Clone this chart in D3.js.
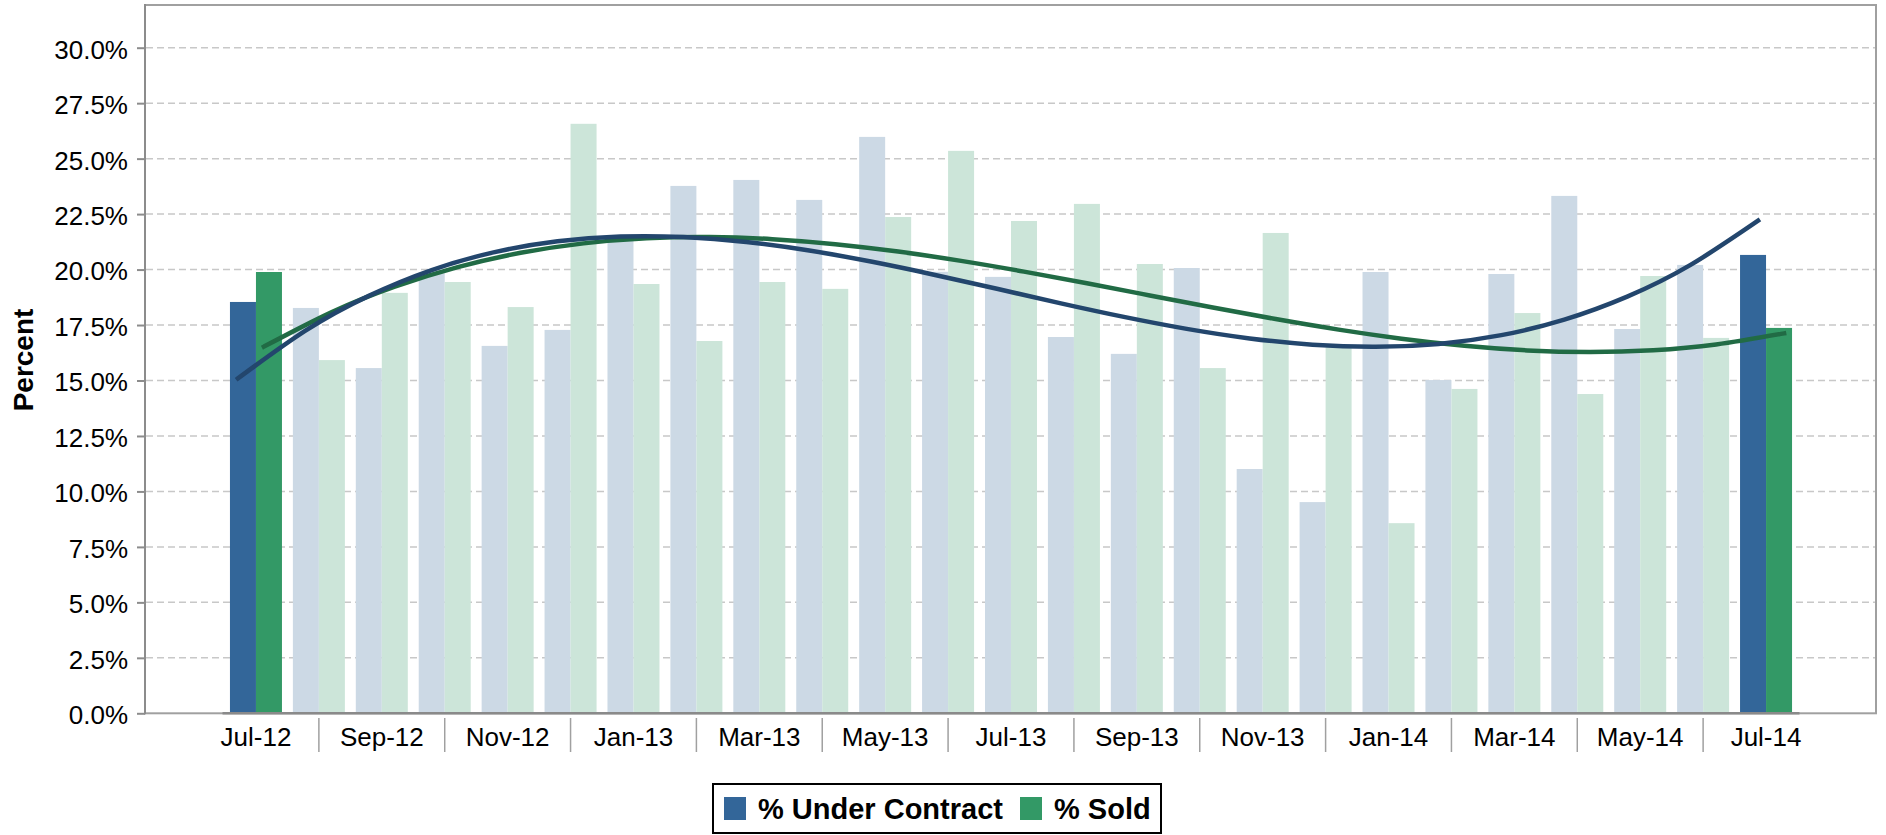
<!DOCTYPE html>
<html>
<head>
<meta charset="utf-8">
<script src="https://cdn.jsdelivr.net/npm/d3@7"></script>
<style>
  body { margin: 0; background: #fff; }
  text { font-family: "Liberation Sans", Arial, sans-serif; fill: #000; }
</style>
</head>
<body>
<svg width="1886" height="835"></svg>
<script>
// months on the category axis, Jul-12 .. Jul-14
var months = ["Jul-12","Aug-12","Sep-12","Oct-12","Nov-12","Dec-12","Jan-13","Feb-13","Mar-13","Apr-13",
              "May-13","Jun-13","Jul-13","Aug-13","Sep-13","Oct-13","Nov-13","Dec-13","Jan-14","Feb-14",
              "Mar-14","Apr-14","May-14","Jun-14","Jul-14"];

// values (percent)
var underContract = [18.54, 18.27, 15.56, 19.83, 16.56, 17.28, 21.3, 23.77, 24.04, 23.14,
                     25.98, 19.9, 19.67, 16.96, 16.2, 20.07, 11.01, 9.52, 19.89, 15.02,
                     19.8, 23.32, 17.32, 20.21, 20.66];
var sold = [19.89, 15.92, 18.95, 19.44, 18.31, 26.57, 19.35, 16.78, 19.44, 19.13,
            22.37, 25.35, 22.19, 22.96, 20.25, 15.56, 21.65, 16.5, 8.57, 14.62,
            18.04, 14.39, 19.71, 16.92, 17.37];

var yTicks = [0, 2.5, 5, 7.5, 10, 12.5, 15, 17.5, 20, 22.5, 25, 27.5, 30];
var seriesNames = ["% Under Contract", "% Sold"];

var series = [
  {key: "uc", name: seriesNames[0], values: underContract, full: "#336699", light: "#ccd9e5", trend: "#23466d"},
  {key: "sold", name: seriesNames[1], values: sold, full: "#339966", light: "#cce5d9", trend: "#216b45"}
];

// plot box (note: "top" is taken by window.top, so use plotTop)
var svg = d3.select("svg"),
    plotLeft = 145, plotRight = 1876, plotTop = 5, plotBottom = 713.3;

var x = d3.scaleBand().domain(months).range([224.5, 1797.5]).paddingInner(0.1735).paddingOuter(0.08675),
    x1 = d3.scaleBand().domain(series.map(function(s) { return s.key; })).range([0, x.bandwidth()]),
    y = d3.scaleLinear().domain([0, 30]).range([plotBottom, 47.7]);

// plot frame
svg.append("rect")
    .attr("x", plotLeft).attr("y", plotTop)
    .attr("width", plotRight - plotLeft).attr("height", plotBottom - plotTop)
    .attr("fill", "none").attr("stroke", "#a0a0a0").attr("stroke-width", 2);

// dashed gridlines
svg.append("g")
    .selectAll("line")
    .data(yTicks.slice(1))
    .enter().append("line")
    .attr("x1", plotLeft + 1).attr("x2", plotRight - 1)
    .attr("y1", function(d) { return y(d); })
    .attr("y2", function(d) { return y(d); })
    .attr("stroke", "#c8c8c8").attr("stroke-width", 1.5)
    .attr("stroke-dasharray", "7,4");

// y axis
var yAxis = svg.append("g")
    .attr("transform", "translate(" + plotLeft + ",0)")
    .call(d3.axisLeft(y).tickValues(yTicks).tickSize(8).tickPadding(9)
      .tickFormat(function(d) { return d3.format(".1f")(d) + "%"; }));
yAxis.select(".domain").remove();
yAxis.selectAll(".tick line").attr("stroke", "#8c8c8c").attr("stroke-width", 2);
yAxis.selectAll(".tick text").attr("font-size", 26).attr("dy", "0.4em").style("font-family", "Liberation Sans, Arial, sans-serif");
svg.append("line")
    .attr("x1", plotLeft).attr("x2", plotLeft).attr("y1", plotTop - 1).attr("y2", plotBottom + 1)
    .attr("stroke", "#8c8c8c").attr("stroke-width", 2);

svg.append("text")
    .attr("transform", "translate(33,360) rotate(-90)")
    .attr("text-anchor", "middle")
    .attr("font-size", 28).attr("font-weight", "bold")
    .text("Percent");

// bars
var groups = svg.append("g")
  .selectAll("g")
  .data(months)
  .enter().append("g")
    .attr("transform", function(m) { return "translate(" + x(m) + ",0)"; });

groups.selectAll("rect")
  .data(function(m, i) {
    return series.map(function(s) {
      return {s: s, v: s.values[i], hi: i === 0 || i === months.length - 1};
    });
  })
  .enter().append("rect")
    .attr("x", function(d) { return x1(d.s.key); })
    .attr("y", function(d) { return y(d.v); })
    .attr("width", x1.bandwidth())
    .attr("height", function(d) { return y(0) - y(d.v); })
    .attr("fill", function(d) { return d.hi ? d.s.full : d.s.light; });

// x axis line
svg.append("line")
    .attr("x1", x.range()[0] - 2).attr("x2", x.range()[1] + 2)
    .attr("y1", y(0)).attr("y2", y(0))
    .attr("stroke", "#8a8a8a").attr("stroke-width", 2.5);

// label every second month, separators in between
var xg = svg.append("g");
xg.selectAll("text")
  .data(months.filter(function(m, i) { return i % 2 === 0; }))
  .enter().append("text")
    .attr("x", function(m) { return x(m) + x.bandwidth() / 2; })
    .attr("y", 746)
    .attr("text-anchor", "middle")
    .attr("font-size", 26)
    .text(function(m) { return m; });
xg.selectAll("line")
  .data(months.filter(function(m, i) { return i % 2 === 1; }))
  .enter().append("line")
    .attr("x1", function(m) { return x(m) + x.bandwidth() / 2; })
    .attr("x2", function(m) { return x(m) + x.bandwidth() / 2; })
    .attr("y1", 718).attr("y2", 752)
    .attr("stroke", "#a0a0a0").attr("stroke-width", 1.5);

// cubic trend line (least squares), like the spreadsheet's polynomial trendline
function polyFit(vals, deg) {
  var n = vals.length, m = deg + 1, h = (n - 1) / 2;
  var A = d3.range(m).map(function() { return d3.range(m + 1).map(function() { return 0; }); });
  vals.forEach(function(v, i) {
    var t = (i - h) / h;
    for (var r = 0; r < m; r++) {
      for (var c = 0; c < m; c++) A[r][c] += Math.pow(t, r + c);
      A[r][m] += v * Math.pow(t, r);
    }
  });
  for (var p = 0; p < m; p++) {
    for (var r = 0; r < m; r++) {
      if (r === p) continue;
      var f = A[r][p] / A[p][p];
      for (var c = p; c <= m; c++) A[r][c] -= f * A[p][c];
    }
  }
  var coef = A.map(function(row, r) { return row[m] / row[r]; });
  return function(i) {
    var t = (i - h) / h;
    return coef.reduce(function(s, c, k) { return s + c * Math.pow(t, k); }, 0);
  };
}

// the trendline runs a little past the first and last bar
var ext = 0.08;
series.slice().reverse().forEach(function(s) {
  var fit = polyFit(s.values, 3);
  var pts = [-ext].concat(d3.range(1, months.length - 1), [months.length - 1 + ext]);
  var line = d3.line()
      .x(function(i) { return x(months[0]) + i * x.step() + x1(s.key) + x1.bandwidth() / 2; })
      .y(function(i) { return y(fit(i)); })
      .curve(d3.curveNatural);
  svg.append("path")
      .datum(pts)
      .attr("d", line)
      .attr("fill", "none")
      .attr("stroke", s.trend)
      .attr("stroke-width", 4.5)
      .attr("stroke-linecap", "square");
});

// legend
var lg = svg.append("g");
lg.append("rect")
    .attr("x", 713).attr("y", 784).attr("width", 448).attr("height", 49)
    .attr("fill", "#fff").attr("stroke", "#000").attr("stroke-width", 2);
var items = lg.selectAll("g")
  .data(series)
  .enter().append("g")
    .attr("transform", function(s, i) { return "translate(" + [724, 1020][i] + ",0)"; });
items.append("rect")
    .attr("y", 797).attr("width", 22).attr("height", 23)
    .attr("fill", function(s) { return s.full; });
items.append("text")
    .attr("x", 34).attr("y", 819)
    .attr("font-size", 29).attr("font-weight", "bold")
    .text(function(s) { return s.name; });
</script>
</body>
</html>
